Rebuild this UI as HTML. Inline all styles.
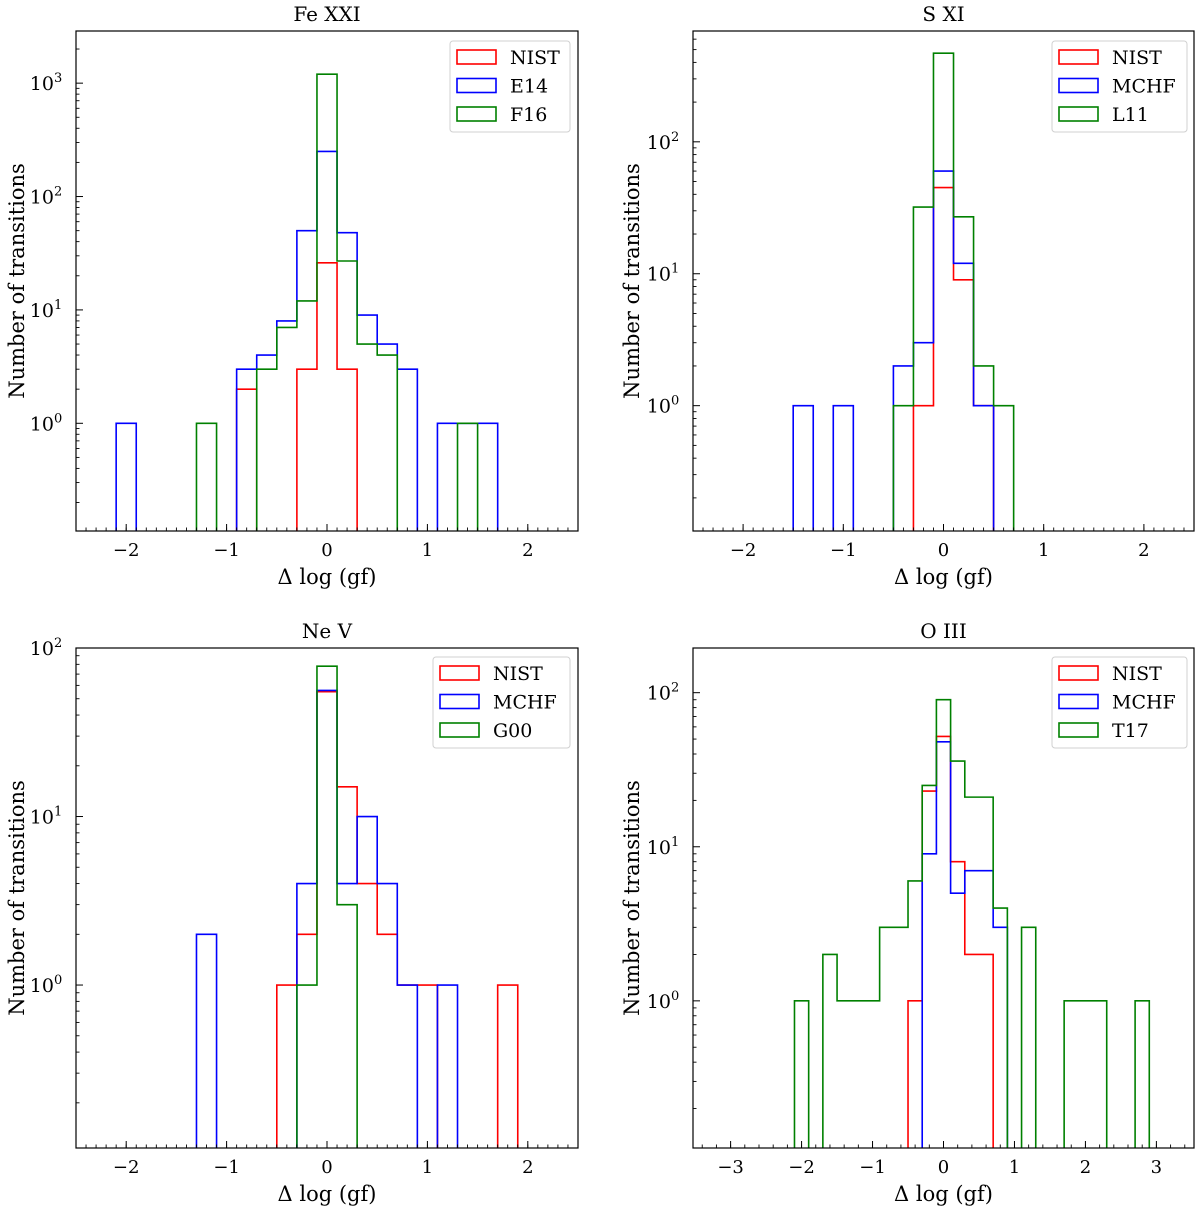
<!DOCTYPE html>
<html><head><meta charset="utf-8"><style>
html,body{margin:0;padding:0;background:#fff;}
svg text{font-family:"DejaVu Serif","Liberation Serif",serif;fill:#000;}
</style></head><body>
<svg id="fig" width="1200" height="1210" viewBox="0 0 1200 1210" xmlns="http://www.w3.org/2000/svg"></svg>
<script>
// ---- data (bin width 0.2; each series: first bin left edge + counts) ----
const p1Names = ["NIST","E14","F16"];
const p1Starts = [-0.9,-2.1,-1.3];
const p1Nist = [2,0,0,3,26,3];
const p1E14 = [1,0,0,0,0,0,3,4,8,50,250,48,9,5,3,0,1,1,1];
const p1F16 = [1,0,0,3,7,12,1200,27,5,4,0,0,0,1];

const p2Names = ["NIST","MCHF","L11"];
const p2Starts = [-0.3,-1.5,-0.5];
const p2Nist = [1,45,9,1];
const p2Mchf = [1,0,1,0,0,2,3,60,12,1];
const p2L11 = [1,32,470,27,2,1];

const p3Names = ["NIST","MCHF","G00"];
const p3Starts = [-0.5,-1.3,-0.3];
const p3Nist = [1,2,55,15,4,2,1,1,0,0,0,1];
const p3Mchf = [2,0,0,0,0,4,56,4,10,4,1,0,1];
const p3G00 = [1,78,3];

const p4Names = ["NIST","MCHF","T17"];
const p4Starts = [-0.5,-0.3,-2.1];
const p4Nist = [1,23,52,8,2,2];
const p4Mchf = [9,48,5,7,7,3];
const p4T17 = [1,0,2,1,1,1,3,3,6,25,90,36,21,21,4,0,3,0,0,1,1,1,0,0,1];

const xTicks12 = [-2,-1,0,1,2];
const xTicks4 = [-3,-2,-1,0,1,2,3];
const titles = ["Fe XXI","S XI","Ne V","O III"];
const colors = ["#ff0000","#0000ff","#008000"];

const NS="http://www.w3.org/2000/svg";
const svg=document.getElementById('fig');
function mk(tag,attrs,parent){const e=document.createElementNS(NS,tag);for(const k in attrs)e.setAttribute(k,attrs[k]);(parent||svg).appendChild(e);return e;}

const panels=[
 {L:76,R:578,T:31,B:531,x0:-2.5,x1:2.5,y0:-0.95,y1:3.46,xt:xTicks12,minor:0.1,series:[p1Nist,p1E14,p1F16],starts:p1Starts,names:p1Names,yl:16,leg:[450,41,120]},
 {L:693,R:1194,T:31,B:531,x0:-2.5,x1:2.5,y0:-0.95,y1:2.84,xt:xTicks12,minor:0.1,series:[p2Nist,p2Mchf,p2L11],starts:p2Starts,names:p2Names,yl:631,leg:[1052,41,135]},
 {L:76,R:578,T:648,B:1148,x0:-2.5,x1:2.5,y0:-0.967,y1:2,xt:xTicks12,minor:0.1,series:[p3Nist,p3Mchf,p3G00],starts:p3Starts,names:p3Names,yl:16,leg:[433,657,137]},
 {L:693,R:1194,T:648,B:1148,x0:-3.53,x1:3.53,y0:-0.955,y1:2.29,xt:xTicks4,minor:0.2,series:[p4Nist,p4Mchf,p4T17],starts:p4Starts,names:p4Names,yl:631,leg:[1052,657,135]}
];

panels.forEach((p,pi)=>{
  const g=mk('g',{});
  
  
  const X=v=>p.L+(v-p.x0)/(p.x1-p.x0)*(p.R-p.L);
  const Y=c=>{ if(c<=0) return p.B+60; const l=Math.log10(c); return p.B-(l-p.y0)/(p.y1-p.y0)*(p.B-p.T); };
  const cid='clip'+pi;
  const cp=mk('clipPath',{id:cid},g); mk('rect',{x:p.L,y:p.T,width:p.R-p.L,height:p.B-p.T},cp);
  p.series.forEach((counts,si)=>{
    let x=p.starts[si];
    let d='M'+X(x).toFixed(2)+','+(p.B+60);
    counts.forEach((c,i)=>{
      const xa=X(x+0.2*i), xb=X(x+0.2*(i+1)), y=Y(c).toFixed(2);
      d+=' L'+xa.toFixed(2)+','+y+' L'+xb.toFixed(2)+','+y;
    });
    d+=' L'+X(x+0.2*counts.length).toFixed(2)+','+(p.B+60);
    const path=mk('path',{d:d,fill:'none',stroke:colors[si],'stroke-width':1.6,'clip-path':'url(#'+cid+')'},g);
    
    
  });
  const fr=mk('rect',{x:p.L,y:p.T,width:p.R-p.L,height:p.B-p.T,fill:'none',stroke:'#000','stroke-width':1.2},g);
  
  
  const nMin=Math.round((p.x1-p.x0)/p.minor)+2;
  for(let k=-nMin;k<=nMin;k++){const v=k*p.minor; if(v<p.x0||v>p.x1)continue; const xx=X(v);
    mk('line',{x1:xx,x2:xx,y1:p.B,y2:p.B-3.5,stroke:'#000','stroke-width':0.9},g);}
  p.xt.forEach(v=>{const xx=X(v);
    mk('line',{x1:xx,x2:xx,y1:p.B,y2:p.B-7,stroke:'#000','stroke-width':1},g);
    const t=mk('text',{x:xx,y:p.B+25,'text-anchor':'middle','font-size':18},g);
    t.textContent=(v<0?'\u2212'+(-v):String(v));
    
    
  });
  for(let e=Math.floor(p.y0);e<=Math.ceil(p.y1);e++){
    for(let m=1;m<10;m++){const l=e+Math.log10(m); if(l<p.y0||l>p.y1)continue; const yy=Y(Math.pow(10,l));
      mk('line',{x1:p.L,x2:p.L+(m===1?7:3.5),y1:yy,y2:yy,stroke:'#000','stroke-width':m===1?1:0.9},g);
      if(m===1){const t=mk('text',{x:p.L-30,y:yy+7,'text-anchor':'middle','font-size':19},g);
        
        
        t.appendChild(document.createTextNode('10'));
        const s=mk('tspan',{dy:-8,'font-size':13},t); s.textContent=String(e);}
    }
  }
  const tt=mk('text',{x:(p.L+p.R)/2,y:p.T-10,'text-anchor':'middle','font-size':20},g);
  tt.textContent=titles[pi];
  
  
  const xl=mk('text',{x:(p.L+p.R)/2,y:p.B+53,'text-anchor':'middle','font-size':21},g);
  xl.textContent='\u0394 log (gf)';
  
  
  const ycy=(p.T+p.B)/2;
  const yl=mk('text',{x:p.yl,y:ycy,'text-anchor':'middle','font-size':21,transform:'rotate(-90 '+(p.yl)+' '+ycy+') translate(0,8)'},g);
  yl.textContent='Number of transitions';
  
  
  const [lx,ly,lw]=p.leg;
  const lg=mk('g',{},g);
  
  
  mk('rect',{x:lx,y:ly,width:lw,height:91,rx:3,fill:'#fff','fill-opacity':0.8,stroke:'#d0d0d0','stroke-width':1},lg);
  p.names.forEach((n,i)=>{
    const yy=ly+9+i*28.5;
    const r=mk('rect',{x:lx+7,y:yy,width:39,height:14,fill:'none',stroke:colors[i],'stroke-width':1.6},lg);
    
    
    const t=mk('text',{x:lx+60,y:yy+14,'font-size':19},lg);
    t.textContent=n;
    
    
  });
});
</script>
</body></html>
